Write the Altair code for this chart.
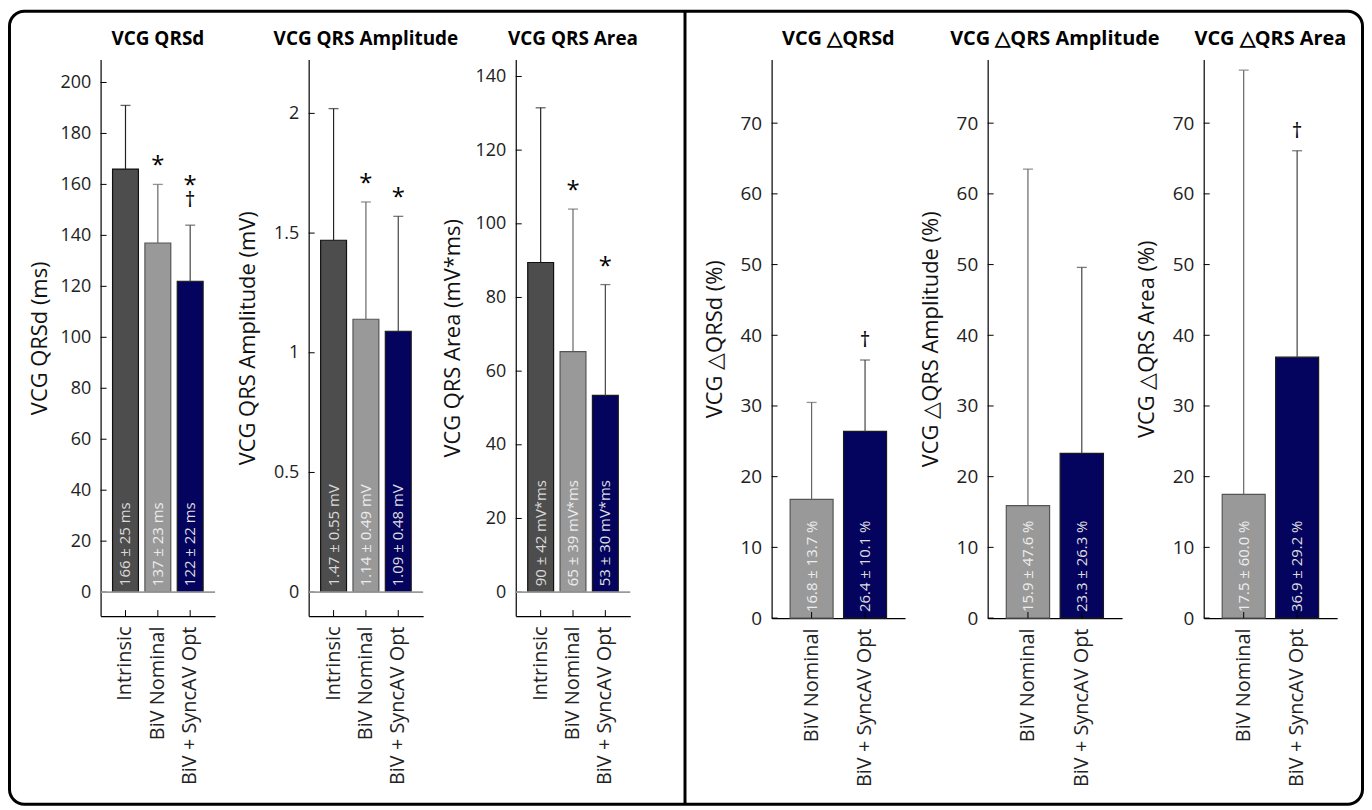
import altair as alt
import pandas as pd

FONT = "Open Sans"

# ---------------- data ----------------
CATS = ["Intrinsic", "BiV Nominal", "BiV + SyncAV Opt"]
DCATS = ["BiV Nominal", "BiV + SyncAV Opt"]
FILLS = ["#4d4d4d", "#999999", "#04045f"]
EDGES = ["#111111", "#555555", "#1a1a1a"]
WHISK = ["#222222", "#666666", "#444444"]
TXTC = ["#d9d9d9", "#ececec", "#dedede"]

qrsd_mean = [166, 137, 122]
qrsd_sd = [25, 23, 22]
qrsd_text = ["166 ± 25 ms", "137 ± 23 ms", "122 ± 22 ms"]
qrsd_star = [False, True, True]
qrsd_dagger = [False, False, True]
qrsd_ticks = [0, 20, 40, 60, 80, 100, 120, 140, 160, 180, 200]

amp_mean = [1.47, 1.14, 1.09]
amp_sd = [0.55, 0.49, 0.48]
amp_text = ["1.47 ± 0.55 mV", "1.14 ± 0.49 mV", "1.09 ± 0.48 mV"]
amp_star = [False, True, True]
amp_dagger = [False, False, False]
amp_ticks = [0, 0.5, 1, 1.5, 2]

area_mean = [89.5, 65.3, 53.4]
area_sd = [42, 38.7, 30.1]
area_text = ["90 ± 42 mV*ms", "65 ± 39 mV*ms", "53 ± 30 mV*ms"]
area_star = [False, True, True]
area_dagger = [False, False, False]
area_ticks = [0, 20, 40, 60, 80, 100, 120, 140]

dqrsd_mean = [16.8, 26.4]
dqrsd_sd = [13.7, 10.1]
dqrsd_text = ["16.8 ± 13.7 %", "26.4 ± 10.1 %"]
dqrsd_dagger = [False, True]

damp_mean = [15.9, 23.3]
damp_sd = [47.6, 26.3]
damp_text = ["15.9 ± 47.6 %", "23.3 ± 26.3 %"]
damp_dagger = [False, False]

darea_mean = [17.5, 36.9]
darea_sd = [60.0, 29.2]
darea_text = ["17.5 ± 60.0 %", "36.9 ± 29.2 %"]
darea_dagger = [False, True]

d_ticks = [0, 10, 20, 30, 40, 50, 60, 70]


def panel(title, ytitle, cats, mean, sd, text, star, dagger, ydom, yticks, yfmt,
          width, xr, pin, pout, height, title_x, dag_gap, zero_line,
          tick_fs, bar_fs, title_fs, title_off, extra=None):
    df = pd.DataFrame({"cat": cats, "mean": mean, "sd": sd, "label": text,
                       "star": star, "dagger": dagger})
    df["top"] = df["mean"] + df["sd"]
    base = alt.Chart(df)

    xscale = alt.Scale(domain=cats, range=[0, xr], paddingInner=pin, paddingOuter=pout)
    xaxis = alt.Axis(title=None, labelAngle=270, labelPadding=10, ticks=False,
                     domainColor="black", domainWidth=1.2, labelFontSize=20,
                     labelFont=FONT, labelColor="#222222")
    yscale = alt.Scale(domain=ydom, nice=False, zero=False)
    yaxis = alt.Axis(values=yticks, format=yfmt, ticks=False, grid=False,
                     domainColor="black", domainWidth=1.2, labelPadding=10,
                     labelFontSize=tick_fs, labelFont=FONT, labelColor="#222222",
                     title=ytitle, titleFont=FONT, titleFontSize=22,
                     titleFontWeight="normal", titleColor="#111111",
                     titleX=title_x, titleY=height / 2, titleAngle=270,
                     titleAlign="center", titleBaseline="middle")

    def X():
        return alt.X("cat:N", sort=cats, scale=xscale, axis=xaxis)

    def Y(f):
        return alt.Y(f, scale=yscale, axis=yaxis)

    bars = base.mark_bar(strokeWidth=1.2).encode(
        x=X(), y=Y("mean:Q"), y2=alt.datum(0),
        fill=alt.Fill("cat:N", scale=alt.Scale(domain=CATS, range=FILLS), legend=None),
        stroke=alt.Stroke("cat:N", scale=alt.Scale(domain=CATS, range=EDGES), legend=None),
    )
    whisk = base.mark_rule(strokeWidth=1.2).encode(
        x=X(), y=Y("mean:Q"), y2="top:Q",
        color=alt.Color("cat:N", scale=alt.Scale(domain=CATS, range=WHISK), legend=None),
    )
    cap = base.mark_tick(size=10, thickness=1.3).encode(
        x=X(), y=Y("top:Q"),
        color=alt.Color("cat:N", scale=alt.Scale(domain=CATS, range=WHISK), legend=None),
    )
    labels = base.transform_calculate(base="0").mark_text(
        angle=270, align="left", baseline="middle", dx=6, fontSize=bar_fs, font=FONT
    ).encode(
        x=X(), y=Y("base:Q"), text="label:N",
        color=alt.Color("cat:N", scale=alt.Scale(domain=CATS, range=TXTC), legend=None),
    )
    star_only = base.transform_filter("datum.star && !datum.dagger").mark_text(
        text="*", baseline="alphabetic", dy=-11, fontSize=24, font=FONT, color="black"
    ).encode(x=X(), y=Y("top:Q"))
    star_dag = base.transform_filter("datum.star && datum.dagger").mark_text(
        text="*", baseline="alphabetic", dy=-32, fontSize=24, font=FONT, color="black"
    ).encode(x=X(), y=Y("top:Q"))
    dag = base.transform_filter("datum.dagger").mark_text(
        text="†", baseline="alphabetic", dy=-(dag_gap - 6), fontSize=21, font=FONT,
        color="black"
    ).encode(x=X(), y=Y("top:Q"))

    tdf = pd.DataFrame({"v": yticks})
    yt = alt.Chart(tdf).mark_rule(color="black", strokeWidth=1).encode(
        y=Y("v:Q"), x=alt.value(0), x2=alt.value(6))
    xt = base.mark_rule(color="black", strokeWidth=1).encode(
        x=X(), y=alt.value(height), y2=alt.value(height - 6))

    layers = [bars, whisk, cap, labels, star_only, star_dag, dag, yt, xt]
    if zero_line:
        z = alt.Chart(pd.DataFrame({"z": [0]})).mark_rule(
            color="#9a9a9a", strokeWidth=1.8).encode(
            y=Y("z:Q"), x=alt.value(0), x2=alt.value(xr))
        layers.append(z)
    if extra:
        layers += extra
    ch = alt.layer(*layers).resolve_scale(color="independent").properties(
        width=width, height=height,
        title=alt.TitleParams(title, font=FONT, fontSize=title_fs, fontWeight="bold",
                              color="black", anchor="middle", frame="group",
                              dx=(xr - width) / 2, offset=title_off),
    )
    return ch


one = pd.DataFrame({"k": [0]})
border = alt.Chart(one).mark_rect(
    fillOpacity=0, stroke="black", strokeWidth=3, cornerRadius=15
).encode(x=alt.value(-91.5), x2=alt.value(1267.5), y=alt.value(-48.5), y2=alt.value(748))
divider = alt.Chart(one).mark_rule(color="black", strokeWidth=3).encode(
    x=alt.value(587), y=alt.value(-48.5), y2=alt.value(748))

LH = 559
RH = 561
TOFF = 11
p1 = panel("VCG QRSd", "VCG QRSd (ms)", CATS, qrsd_mean, qrsd_sd, qrsd_text,
           qrsd_star, qrsd_dagger, [-9.4, 209], qrsd_ticks, "d",
           209, 115, 0.2, 0.37, LH, -61, 24, True, 18, 15, 19, TOFF - 50,
           extra=[border, divider])
p2 = panel("VCG QRS Amplitude", "VCG QRS Amplitude (mV)", CATS, amp_mean, amp_sd, amp_text,
           amp_star, amp_dagger, [-0.1, 2.225], amp_ticks, "~g",
           208, 115, 0.2, 0.37, LH, -61, 24, True, 18, 15, 19, TOFF)
p3 = panel("VCG QRS Area", "VCG QRS Area (mV*ms)", CATS, area_mean, area_sd, area_text,
           area_star, area_dagger, [-6.5, 144.6], area_ticks, "d",
           257, 115, 0.2, 0.37, LH, -64, 24, True, 18, 15, 19, TOFF)
p4 = panel("VCG △QRSd", "VCG △QRSd (%)", DCATS, dqrsd_mean, dqrsd_sd, dqrsd_text,
           [False, False], dqrsd_dagger, [0, 79], d_ticks, "d",
           216.5, 134, 0.196, 0.346, RH, -57, 19, False, 19, 15, 20, TOFF)
p5 = panel("VCG △QRS Amplitude", "VCG △QRS Amplitude (%)", DCATS, damp_mean, damp_sd, damp_text,
           [False, False], damp_dagger, [0, 79], d_ticks, "d",
           216.5, 135, 0.196, 0.346, RH, -57, 19, False, 19, 15, 20, TOFF)
p6 = panel("VCG △QRS Area", "VCG △QRS Area (%)", DCATS, darea_mean, darea_sd, darea_text,
           [False, False], darea_dagger, [0, 79], d_ticks, "d",
           134, 134, 0.196, 0.346, RH, -57, 19, False, 19, 15, 20, TOFF)

chart = alt.hconcat(p1, p2, p3, p4, p5, p6, spacing=0, bounds="flush").properties(
    padding=0, background="white"
).configure_view(stroke=None)

chart.save("out.html", embed_options={"renderer": "svg", "actions": False})
